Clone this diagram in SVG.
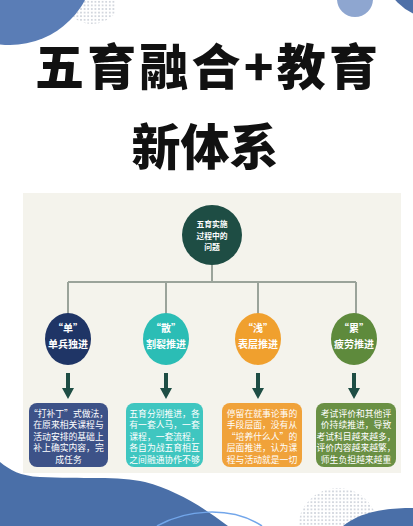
<svg xmlns="http://www.w3.org/2000/svg" width="413" height="526" viewBox="0 0 413 526">
<style>
.t{font-family:"Noto Sans CJK SC","Noto Sans",sans-serif;text-anchor:middle;dominant-baseline:central}
.title{font-size:49px;font-weight:900;fill:#111}
.ctr{font-size:7.8px;font-weight:700;fill:#fff}
.cl{font-size:10px;font-weight:700;fill:#fff}
.bx{font-size:8.8px;fill:#fff}
.link{stroke:#9aa39a;stroke-width:2;fill:none}
.arr{fill:#1e4d44}
</style>
<defs>
<pattern id="dots" width="3.6" height="3.6" patternUnits="userSpaceOnUse">
<circle cx="1.8" cy="1.8" r="0.9" fill="#c5cad3"/>
</pattern>
<clipPath id="c1"><circle cx="92" cy="-6" r="30"/></clipPath>
<clipPath id="c2"><circle cx="338" cy="528" r="40"/></clipPath>
</defs>
<rect width="413" height="526" fill="#ffffff"/>
<!-- decorations -->
<rect x="60" y="0" width="55" height="26" fill="url(#dots)" clip-path="url(#c1)"/>
<circle cx="10" cy="-40" r="85" fill="#5a7db6"/>
<circle cx="440" cy="-40" r="60" fill="#4f70a8"/>
<circle cx="355" cy="-1" r="18" fill="#8ea6d0"/>
<rect x="296" y="486" width="84" height="40" fill="url(#dots)" clip-path="url(#c2)"/>
<path d="M0,462 C10,470 20,476 40,477 C80,479 120,476 145,482 C175,490 200,505 228,526 L0,526 Z" fill="#4a6fa8"/>
<path d="M343,526 C360,512 385,508 413,508 L413,526 Z" fill="#4a6fa8"/>
<path d="M157,526 C185,510 230,505 262,526" fill="none" stroke="#72a6ea" stroke-width="1.5"/>
<!-- title -->
<text class="t title" x="206.5" y="63" textLength="343" lengthAdjust="spacing">五育融合+教育</text>
<text class="t title" x="205" y="143">新体系</text>
<!-- panel -->
<rect x="23" y="193" width="378" height="280" fill="#f4f3ec"/>
<!-- connectors -->
<g id="connectors">
<path class="link" d="M212,265 V282 M68,282 H356 M68,282 V314 M166,282 V314 M258,282 V314 M356,282 V314"/>
<path class="arr" d="M66,373 H70 V388 H74 L68,399 L62,388 H66 Z"/>
<path class="arr" d="M164,373 H168 V388 H172 L166,399 L160,388 H164 Z"/>
<path class="arr" d="M256,373 H260 V388 H264 L258,399 L252,388 H256 Z"/>
<path class="arr" d="M352,373 H356 V388 H360 L354,399 L348,388 H352 Z"/>
</g>
<!-- root -->
<g id="root">
<circle cx="212" cy="235" r="30" fill="#1e4d44"/>
<text class="t ctr" x="212" y="223.4">五育实施</text>
<text class="t ctr" x="212" y="235">过程中的</text>
<text class="t ctr" x="212" y="246.6">问题</text>
</g>
<g id="n1">
<ellipse cx="68" cy="339" rx="23" ry="26" fill="#1f3566"/>
<text class="t cl" x="68" y="327">“单”</text>
<text class="t cl" x="68" y="343">单兵独进</text>
</g>
<g id="n2">
<ellipse cx="166" cy="339" rx="23" ry="26" fill="#2bbdb5"/>
<text class="t cl" x="166" y="327">“散”</text>
<text class="t cl" x="166" y="343">割裂推进</text>
</g>
<g id="n3">
<ellipse cx="258" cy="339" rx="23" ry="26" fill="#f0a02e"/>
<text class="t cl" x="258" y="327">“浅”</text>
<text class="t cl" x="258" y="343">表层推进</text>
</g>
<g id="n4">
<ellipse cx="354" cy="339" rx="23" ry="26" fill="#5e8a3c"/>
<text class="t cl" x="354" y="327">“累”</text>
<text class="t cl" x="354" y="343">疲劳推进</text>
</g>
<g id="b1">
<rect x="29" y="403" width="79" height="64" rx="8" fill="#3d5288"/>
<text class="t bx" x="68.5" y="413">“打补丁”式做法，</text>
<text class="t bx" x="68.5" y="424.5">在原来相关课程与</text>
<text class="t bx" x="68.5" y="436">活动安排的基础上</text>
<text class="t bx" x="68.5" y="447.5">补上确实内容，完</text>
<text class="t bx" x="68.5" y="459">成任务</text>
</g>
<g id="b2">
<rect x="126" y="403" width="77" height="64" rx="8" fill="#3fc6c0"/>
<text class="t bx" x="164.5" y="413">五育分别推进，各</text>
<text class="t bx" x="164.5" y="424.5">有一套人马，一套</text>
<text class="t bx" x="164.5" y="436">课程，一套流程，</text>
<text class="t bx" x="164.5" y="447.5">各自为战五育相互</text>
<text class="t bx" x="164.5" y="459">之间融通协作不够</text>
</g>
<g id="b3">
<rect x="222" y="403" width="80" height="64" rx="8" fill="#f0a23a"/>
<text class="t bx" x="262" y="413">停留在就事论事的</text>
<text class="t bx" x="262" y="424.5">手段层面，没有从</text>
<text class="t bx" x="262" y="436">“培养什么人”的</text>
<text class="t bx" x="262" y="447.5">层面推进，认为课</text>
<text class="t bx" x="262" y="459">程与活动就是一切</text>
</g>
<g id="b4">
<rect x="316" y="403" width="80" height="64" rx="8" fill="#6a9044"/>
<text class="t bx" x="356" y="413">考试评价和其他评</text>
<text class="t bx" x="356" y="424.5">价持续推进，导致</text>
<text class="t bx" x="356" y="436">考试科目越来越多，</text>
<text class="t bx" x="356" y="447.5">评价内容越来越繁，</text>
<text class="t bx" x="356" y="459">师生负担越来越重</text>
</g>
</svg>
